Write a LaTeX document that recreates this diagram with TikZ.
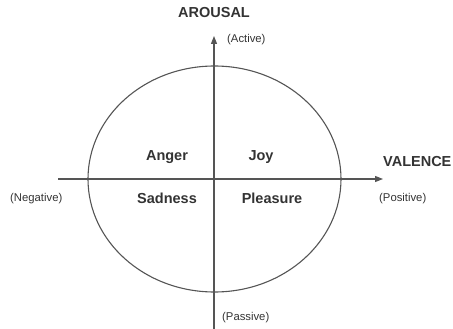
\documentclass[tikz,border=0pt]{standalone}
\usepackage{fontspec}
\setmainfont{Liberation Sans}
\usetikzlibrary{arrows.meta,shapes.geometric}
\definecolor{linec}{HTML}{555555}
\definecolor{textc}{HTML}{333333}
\begin{document}
\begin{tikzpicture}[x=1pt,y=-1pt,
  axis/.style={draw=linec,line width=1.1pt,-{Triangle[length=8pt,width=6pt]}},
  big/.style={font=\fontsize{14.5}{16}\selectfont\bfseries,text=textc,inner sep=0pt},
  small/.style={font=\fontsize{11.3}{13}\selectfont,text=textc,inner sep=0pt}]
\useasboundingbox (0,0) rectangle (453,329);
\coordinate (vbot) at (214,329);
\coordinate (vtop) at (214,36);
\coordinate (hleft) at (58,179);
\coordinate (hright) at (383,179);
\node[draw=linec,line width=1.1pt,ellipse,minimum width=253pt,minimum height=226pt,inner sep=0pt] (circ) at (214.5,179) {};
\draw[axis] (vbot) -- (vtop);
\draw[axis] (hleft) -- (hright);
\node[big] (arousal) at (214,13) {AROUSAL};
\node[small,anchor=west] (active) at (227,40) {(Active)};
\node[big,anchor=west] (valence) at (383,162) {VALENCE};
\node[small,anchor=west] (positive) at (379,199) {(Positive)};
\node[small,anchor=west] (negative) at (10,199) {(Negative)};
\node[small,anchor=west] (passive) at (222,318) {(Passive)};
\node[big] (anger) at (167,157) {Anger};
\node[big] (joy) at (261,157) {Joy};
\node[big] (sadness) at (167,198) {Sadness};
\node[big] (pleasure) at (272,198) {Pleasure};
\end{tikzpicture}
\end{document}
